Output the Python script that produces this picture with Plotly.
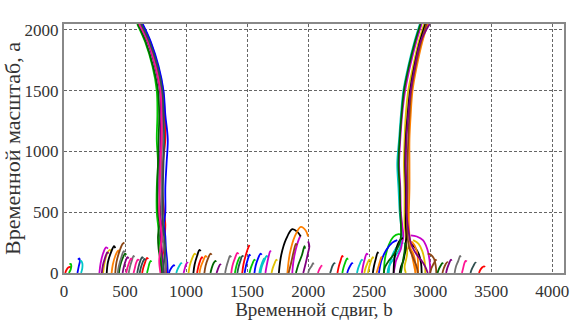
import plotly.graph_objects as go

# Main ridge 1 (left): x positions at scale levels
ridge1_a = [0, 100, 200, 300, 400, 500, 700, 900, 1100, 1300, 1500, 1700, 1900, 2048]
ridge1_x = [
    [800, 790, 775, 770, 780, 770, 765, 770, 775, 780, 770, 730, 670, 605],
    [820, 810, 800, 790, 795, 790, 780, 785, 790, 795, 785, 745, 685, 618],
    [830, 835, 820, 805, 815, 800, 800, 800, 805, 810, 800, 758, 695, 625],
    [790, 780, 790, 800, 790, 780, 785, 790, 800, 800, 790, 750, 690, 615],
    [810, 820, 830, 820, 810, 810, 810, 815, 820, 815, 805, 765, 700, 632],
    [840, 830, 815, 825, 830, 820, 805, 810, 830, 825, 812, 770, 708, 640],
    [805, 800, 790, 780, 770, 760, 760, 770, 760, 765, 760, 725, 665, 600],
    [850, 845, 835, 830, 820, 830, 830, 840, 850, 830, 815, 775, 712, 645],
]

# Main ridge 2 (right)
ridge2_a = [0, 50, 100, 150, 200, 250, 300, 400, 500, 700, 900, 1100, 1300, 1500, 1700, 1900, 2048]
ridge2_x = [
    [2650, 2660, 2690, 2720, 2750, 2760, 2770, 2760, 2750, 2740, 2730, 2745, 2760, 2780, 2820, 2870, 2915],
    [2700, 2710, 2720, 2740, 2760, 2770, 2780, 2770, 2760, 2755, 2745, 2755, 2770, 2795, 2835, 2885, 2930],
    [2800, 2790, 2800, 2810, 2810, 2800, 2800, 2790, 2790, 2790, 2785, 2790, 2800, 2820, 2860, 2905, 2950],
    [2750, 2760, 2780, 2790, 2800, 2800, 2805, 2800, 2800, 2800, 2795, 2800, 2815, 2835, 2870, 2915, 2960],
    [2880, 2870, 2860, 2850, 2840, 2835, 2830, 2825, 2825, 2830, 2830, 2830, 2840, 2855, 2890, 2935, 2980],
    [2900, 2890, 2870, 2850, 2830, 2820, 2815, 2810, 2810, 2815, 2815, 2820, 2830, 2845, 2880, 2925, 2970],
    [2620, 2630, 2660, 2700, 2730, 2750, 2760, 2760, 2755, 2750, 2740, 2750, 2765, 2785, 2825, 2875, 2920],
    [2980, 2960, 2930, 2890, 2860, 2840, 2830, 2815, 2805, 2805, 2800, 2805, 2820, 2840, 2875, 2920, 2995],
]

# Short maxima lines near the bottom
arch_x = [
    [10, 20, 35, 50, 55], [40, 55, 60, 55, 45], [110, 120, 130, 125, 115], [140, 150, 150, 140, 130],
    [290, 300, 320, 345, 360], [320, 330, 350, 375, 390], [350, 360, 385, 410, 420], [390, 400, 420, 445, 455],
    [420, 430, 455, 480, 495], [450, 460, 480, 500, 510], [480, 490, 505, 520, 530], [530, 540, 555, 570, 575],
    [570, 580, 590, 605, 615], [600, 610, 625, 640, 650], [640, 650, 665, 680, 690], [680, 690, 700, 710, 715],
    [860, 870, 885, 900, 905], [920, 930, 945, 960, 965], [980, 990, 1000, 1010, 1015], [1020, 1030, 1050, 1070, 1080],
    [1060, 1070, 1090, 1110, 1120], [1110, 1120, 1140, 1160, 1170], [1150, 1160, 1180, 1200, 1210], [1200, 1210, 1225, 1240, 1245],
    [1250, 1260, 1270, 1280, 1285], [1320, 1330, 1345, 1360, 1370], [1370, 1380, 1400, 1420, 1430], [1420, 1430, 1445, 1460, 1470],
    [1460, 1470, 1490, 1510, 1520], [1520, 1530, 1545, 1560, 1565], [1560, 1570, 1590, 1610, 1620], [1610, 1620, 1640, 1660, 1670],
    [1650, 1660, 1675, 1690, 1695], [1700, 1710, 1725, 1740, 1745],
    [1760, 1780, 1820, 1870, 1910, 1940], [1830, 1850, 1890, 1940, 1980, 2000], [1840, 1860, 1880, 1900, 1910],
    [1900, 1920, 1950, 1970, 1975], [1960, 1980, 2000, 2010, 2000], [2000, 2010, 2030, 2040, 2045],
    [2080, 2090, 2100, 2110, 2110], [2180, 2190, 2200, 2215, 2220], [2240, 2250, 2265, 2280, 2285], [2280, 2290, 2305, 2320, 2325],
    [2320, 2330, 2345, 2360, 2365], [2400, 2410, 2425, 2440, 2445], [2440, 2450, 2465, 2480, 2490], [2490, 2500, 2515, 2530, 2535],
    [2530, 2540, 2555, 2570, 2575], [2560, 2575, 2590, 2600, 2605],
    [3000, 3010, 3030, 3045, 3050], [3060, 3070, 3085, 3100, 3105], [3130, 3140, 3155, 3170, 3175], [3200, 3210, 3230, 3245, 3250],
    [3260, 3270, 3280, 3290, 3300], [3330, 3340, 3355, 3370, 3375], [3400, 3410, 3425, 3440, 3450],
    [2620, 2630, 2660, 2700, 2740, 2770], [2580, 2600, 2640, 2690, 2730], [2660, 2670, 2700, 2740, 2780],
    [3000, 2995, 2975, 2940, 2890, 2840], [2960, 2955, 2935, 2905, 2860], [2930, 2925, 2905, 2875, 2840],
    [2880, 2880, 2870, 2850, 2820], [3050, 3045, 3030, 3005, 2980], [2760, 2770, 2780, 2790, 2795],
    [310, 318, 335, 355, 365], [440, 450, 470, 490, 500], [510, 520, 535, 550, 555], [620, 630, 645, 660, 665],
    [1090, 1100, 1115, 1130, 1135], [1400, 1410, 1425, 1440, 1445], [1480, 1490, 1505, 1520, 1525],
    [1600, 1610, 1625, 1640, 1645], [1870, 1880, 1900, 1925, 1935], [2460, 2470, 2485, 2500, 2505],
    [2700, 2705, 2720, 2745, 2775], [2900, 2900, 2890, 2870, 2845], [3100, 3110, 3125, 3140, 3145],
]
arch_a = [
    [0, 25, 45, 50, 40], [0, 30, 60, 75, 70], [0, 50, 100, 120, 110], [0, 40, 80, 100, 95],
    [0, 80, 160, 210, 200], [0, 70, 150, 190, 175], [0, 90, 170, 220, 205], [0, 70, 140, 185, 170],
    [0, 90, 180, 240, 250], [0, 60, 120, 160, 150], [0, 50, 100, 130, 120], [0, 50, 100, 140, 130],
    [0, 40, 80, 110, 105], [0, 50, 100, 130, 120], [0, 45, 90, 125, 115], [0, 40, 80, 100, 90],
    [0, 25, 50, 65, 55], [0, 30, 60, 80, 75], [0, 40, 70, 85, 80], [0, 60, 120, 160, 150],
    [0, 70, 140, 190, 180], [0, 50, 100, 140, 130], [0, 60, 120, 160, 150], [0, 40, 80, 100, 90],
    [0, 30, 55, 70, 65], [0, 50, 100, 140, 130], [0, 60, 120, 165, 155], [0, 50, 100, 140, 135],
    [0, 70, 150, 210, 230], [0, 40, 80, 110, 100], [0, 60, 120, 160, 150], [0, 50, 100, 140, 130],
    [0, 60, 130, 180, 175], [0, 40, 80, 110, 100],
    [0, 150, 280, 360, 340, 300], [0, 160, 300, 380, 350, 300], [0, 80, 170, 240, 230],
    [0, 70, 150, 220, 200], [0, 80, 170, 220, 260], [0, 30, 60, 80, 70],
    [0, 25, 45, 60, 55], [0, 30, 60, 80, 75], [0, 50, 100, 140, 130], [0, 45, 90, 120, 110],
    [0, 30, 60, 80, 75], [0, 40, 80, 110, 100], [0, 60, 120, 160, 150], [0, 50, 100, 130, 120],
    [0, 60, 120, 170, 160], [0, 50, 100, 130, 125],
    [0, 40, 80, 110, 100], [0, 30, 60, 80, 75], [0, 40, 80, 110, 100], [0, 50, 100, 140, 130],
    [0, 40, 80, 100, 95], [0, 30, 60, 85, 80], [0, 25, 45, 55, 50],
    [0, 120, 230, 300, 320, 310], [0, 100, 190, 250, 270], [0, 80, 170, 230, 250],
    [0, 100, 200, 270, 300, 310], [0, 90, 180, 240, 270], [0, 80, 160, 210, 240],
    [0, 60, 130, 180, 210], [0, 60, 120, 150, 160], [0, 60, 120, 180, 250],
    [0, 60, 120, 170, 160], [0, 60, 130, 180, 170], [0, 45, 90, 120, 110], [0, 45, 90, 115, 105],
    [0, 50, 100, 130, 120], [0, 50, 100, 130, 125], [0, 55, 110, 150, 140],
    [0, 45, 90, 120, 110], [0, 100, 200, 280, 300], [0, 40, 80, 110, 100],
    [0, 100, 190, 260, 290], [0, 90, 180, 230, 260], [0, 35, 70, 90, 85],
]

colors = ['#ff0000', '#00c800', '#0000ff', '#00c8c8', '#c800c8', '#e0c000', '#000000',
          '#ff8000', '#8b4513', '#006400', '#800080', '#707070', '#ff1493', '#2f4f4f']

x_ticks = [0, 500, 1000, 1500, 2000, 2500, 3000, 3500, 4000]
y_ticks = [0, 500, 1000, 1500, 2000]

# gather every line, then draw one trace per colour (lines separated by gaps)
lines = list(zip(arch_x, arch_a))
lines += [(xs, ridge1_a) for xs in ridge1_x]
lines += [(xs, ridge2_a) for xs in ridge2_x]

fig = go.Figure()
for ci, col in enumerate(colors):
    gx, gy = [], []
    for k, (xs, ys) in enumerate(lines):
        if k % len(colors) == ci:
            gx += list(xs) + [None]
            gy += list(ys) + [None]
    fig.add_trace(go.Scatter(x=gx, y=gy, mode='lines', connectgaps=False,
                             line=dict(color=col, width=1.8, shape='spline')))

font = '"Liberation Serif", "Times New Roman", serif'
fig.update_layout(
    width=576, height=320,
    margin=dict(l=64, r=12, t=24, b=47, autoexpand=False),
    paper_bgcolor='white', plot_bgcolor='white',
    showlegend=False,
    font=dict(family=font, size=17, color='#333'),
    xaxis=dict(range=[0, 4096], tickvals=x_ticks, showgrid=True, gridcolor='#666',
               griddash='3px,2px', gridwidth=1, zeroline=False, showline=True, mirror=True,
               linecolor='#888', linewidth=2, ticks='', automargin=False, ticklabelstandoff=2,
               tickfont=dict(family=font, size=17, color='#333'),
               title=dict(text='Временной сдвиг, b', font=dict(family=font, size=19, color='#333'), standoff=4)),
    yaxis=dict(range=[0, 2048], tickvals=y_ticks, showgrid=True, gridcolor='#666',
               griddash='3px,2px', gridwidth=1, zeroline=False, showline=True, mirror=True,
               linecolor='#888', linewidth=2, ticks='', automargin=False,
               tickfont=dict(family=font, size=17, color='#333'),
               title=dict(text='Временной масштаб, a', font=dict(family=font, size=22, color='#333'), standoff=4)),
)

fig.write_html('out.html', config={'displayModeBar': False},
               post_script="document.body.style.margin='0';")
